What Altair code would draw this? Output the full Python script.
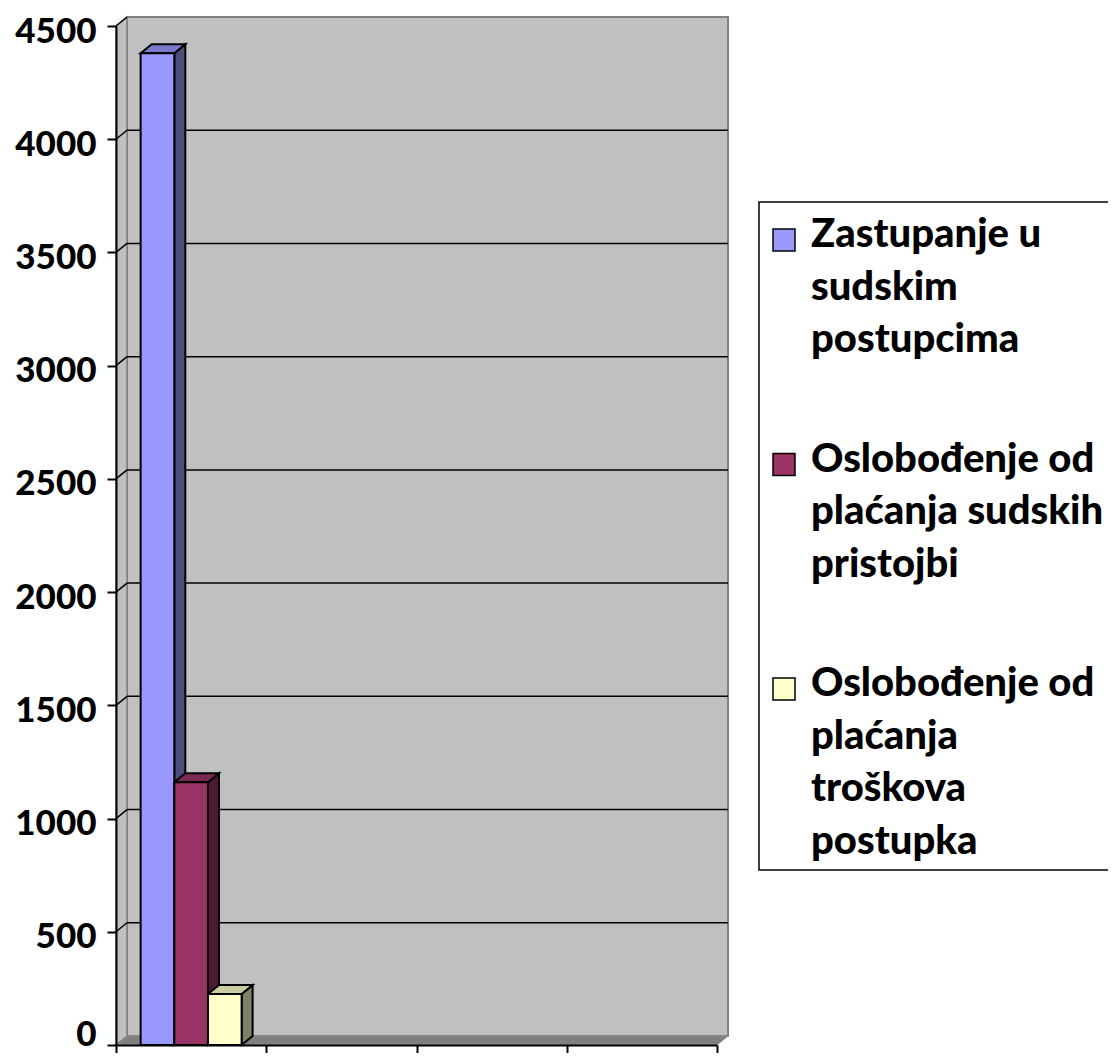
import altair as alt
import pandas as pd

# ---------------- data ----------------
series = [
    "Zastupanje u sudskim postupcima",
    "Oslobođenje od plaćanja sudskih pristojbi",
    "Oslobođenje od plaćanja troškova postupka",
]
legend_lines = [
    ["Zastupanje u", "sudskim", "postupcima"],
    ["Oslobođenje od", "plaćanja sudskih", "pristojbi"],
    ["Oslobođenje od", "plaćanja", "troškova", "postupka"],
]
values = [4380, 1160, 225]
front_colors = ["#9999FF", "#993366", "#FFFFCC"]
top_colors = ["#7A7ACC", "#7A2952", "#CCCCA3"]
side_colors = ["#4D4D80", "#4D1A33", "#808066"]
n_categories = 4
y_ticks = list(range(0, 4501, 500))

# ---------------- layout ----------------
W, H = 601, 1019
YMAX = 4500
DEPTH_PX_X, DEPTH_PX_Y = 11, 9
DX = DEPTH_PX_X * n_categories / W      # 3-D depth in x data units
DY = DEPTH_PX_Y * YMAX / H              # 3-D depth in y data units
GROUP_FRAC = 0.672
bw = GROUP_FRAC / len(series)
start = (1 - GROUP_FRAC) / 2

xs = alt.Scale(domain=[0, n_categories], nice=False, zero=False)
ys = alt.Scale(domain=[0, YMAX], nice=False, zero=False)

x_axis = alt.Axis(values=list(range(n_categories + 1)), labels=False, title=None,
                  ticks=True, tickSize=9, tickWidth=2, tickColor="black",
                  domainColor="black", domainWidth=2, grid=False, zindex=1)
y_axis = alt.Axis(values=y_ticks, title=None, format="d",
                  labelFont="Lato", labelFontWeight=900, labelFontSize=35,
                  labelColor="black", labelPadding=11, labelOverlap=False,
                  labelFlush=False, labelBaseline="alphabetic",
                  labelOffset={"condition": {"test": "datum.value == 0", "value": 0}, "value": 16},
                  tickSize=9, tickWidth=2, tickColor="black",
                  domainColor="black", domainWidth=2, grid=False, zindex=1)


def X(f):
    return alt.X(f, scale=xs, axis=x_axis)


def Y(f):
    return alt.Y(f, scale=ys, axis=y_axis)


# walls
back_df = pd.DataFrame({"x": [DX], "x2": [n_categories + DX], "y": [DY], "y2": [YMAX + DY]})
back_wall = alt.Chart(back_df).mark_rect(fill="#C0C0C0", stroke="#808080", strokeWidth=2).encode(
    x=X("x:Q"), x2="x2:Q", y=Y("y:Q"), y2="y2:Q")

left_df = pd.DataFrame({"x": [0, DX], "ya": [YMAX, YMAX + DY], "yb": [0, DY]})
left_wall = alt.Chart(left_df).mark_area(orient="vertical", fill="#C0C0C0",
                                         stroke="#808080", strokeWidth=1.5).encode(
    x=X("x:Q"), y=alt.Y("ya:Q", scale=ys, axis=y_axis, stack=None), y2="yb:Q")

floor_df = pd.DataFrame({"y": [0, DY], "xa": [0, DX], "xb": [n_categories, n_categories + DX]})
floor = alt.Chart(floor_df).mark_area(orient="horizontal", fill="#808080",
                                      stroke="#8C8C8C", strokeWidth=1).encode(
    y=Y("y:Q"), x=alt.X("xa:Q", scale=xs, axis=x_axis, stack=None), x2="xb:Q")

grid_vals = [v for v in y_ticks if 0 < v < YMAX]
grid_df = pd.DataFrame({"x": [DX] * len(grid_vals), "x2": [n_categories + DX] * len(grid_vals),
                        "y": [v + DY for v in grid_vals]})
grid = alt.Chart(grid_df).mark_rule(color="black", strokeWidth=1.5).encode(
    x=X("x:Q"), x2="x2:Q", y=Y("y:Q"))

diag_vals = [v for v in y_ticks if v > 0]
diag_df = pd.DataFrame({"x": [0] * len(diag_vals), "x2": [DX] * len(diag_vals),
                        "y": diag_vals, "y2": [v + DY for v in diag_vals]})
diags = alt.Chart(diag_df).mark_rule(color="black", strokeWidth=1.5).encode(
    x=X("x:Q"), x2="x2:Q", y=Y("y:Q"), y2="y2:Q")

# bars
x0 = [start + k * bw for k in range(len(series))]
x1 = [a + bw for a in x0]

front_df = pd.DataFrame({"series": series, "x0": x0, "x1": x1, "v": values, "zero": [0] * len(series)})

top_rows, side_rows = [], []
for k, s in enumerate(series):
    v = values[k]
    top_rows.append({"series": s, "c": top_colors[k], "y": v, "xa": x0[k], "xb": x1[k]})
    top_rows.append({"series": s, "c": top_colors[k], "y": v + DY, "xa": x0[k] + DX, "xb": x1[k] + DX})
    side_rows.append({"series": s, "c": side_colors[k], "x": x1[k], "ya": v, "yb": 0})
    side_rows.append({"series": s, "c": side_colors[k], "x": x1[k] + DX, "ya": v + DY, "yb": DY})
top_df = pd.DataFrame(top_rows)
side_df = pd.DataFrame(side_rows)

sides = alt.Chart(side_df).mark_area(orient="vertical", stroke="black", strokeWidth=2).encode(
    x=X("x:Q"), y=alt.Y("ya:Q", scale=ys, axis=y_axis, stack=None), y2="yb:Q",
    detail="series:N", fill=alt.Fill("c:N", scale=None, legend=None))

tops = alt.Chart(top_df).mark_area(orient="horizontal", stroke="black", strokeWidth=2).encode(
    y=Y("y:Q"), x=alt.X("xa:Q", scale=xs, axis=x_axis, stack=None), x2="xb:Q",
    detail="series:N", fill=alt.Fill("c:N", scale=None, legend=None))

fronts = alt.Chart(front_df).mark_rect(stroke="black", strokeWidth=2).encode(
    x=X("x0:Q"), x2="x1:Q", y=Y("v:Q"), y2="zero:Q",
    fill=alt.Fill("series:N", scale=alt.Scale(domain=series, range=front_colors), legend=None))

# ---------------- legend (drawn by hand, positions in px relative to plot) ----------------
LEG_X, LEG_Y, LEG_X2, LEG_Y2 = 643, 176, 1030, 844
SYM_X, SYM = 657, 22
TXT_X = 695
LINE_H = 52.5
FIRST_BASE = 221
ENTRY_GAP = 67

legend_layers = [
    alt.Chart(pd.DataFrame({"k": [0]})).mark_rect(fill="white", stroke="black", strokeWidth=1.5).encode(
        x=alt.value(LEG_X), x2=alt.value(LEG_X2), y=alt.value(LEG_Y), y2=alt.value(LEG_Y2))
]
base = FIRST_BASE
for k, s in enumerate(series):
    c = base - 7
    legend_layers.append(
        alt.Chart(pd.DataFrame({"series": [s]})).mark_rect(
            fill=front_colors[k], stroke="black", strokeWidth=1.5).encode(
            x=alt.value(SYM_X), x2=alt.value(SYM_X + SYM),
            y=alt.value(c - SYM / 2), y2=alt.value(c + SYM / 2)))
    legend_layers.append(
        alt.Chart(pd.DataFrame({"t": ["\n".join(legend_lines[k])]})).mark_text(
            align="left", baseline="alphabetic", lineBreak="\n", lineHeight=LINE_H,
            font="Lato", fontWeight=900, fontSize=40, color="black").encode(
            text="t:N", x=alt.value(TXT_X), y=alt.value(base)))
    base += len(legend_lines[k]) * LINE_H + ENTRY_GAP

chart = alt.layer(back_wall, left_wall, floor, grid, diags, sides, tops, fronts,
                  *legend_layers).properties(
    width=W, height=H,
    autosize=alt.AutoSizeParams(type="none"),
    padding={"left": 108, "top": 18, "right": 391, "bottom": 8},
).configure_view(stroke=None).configure(background="white")

chart.save("out.html", embed_options={"renderer": "svg", "actions": False})
